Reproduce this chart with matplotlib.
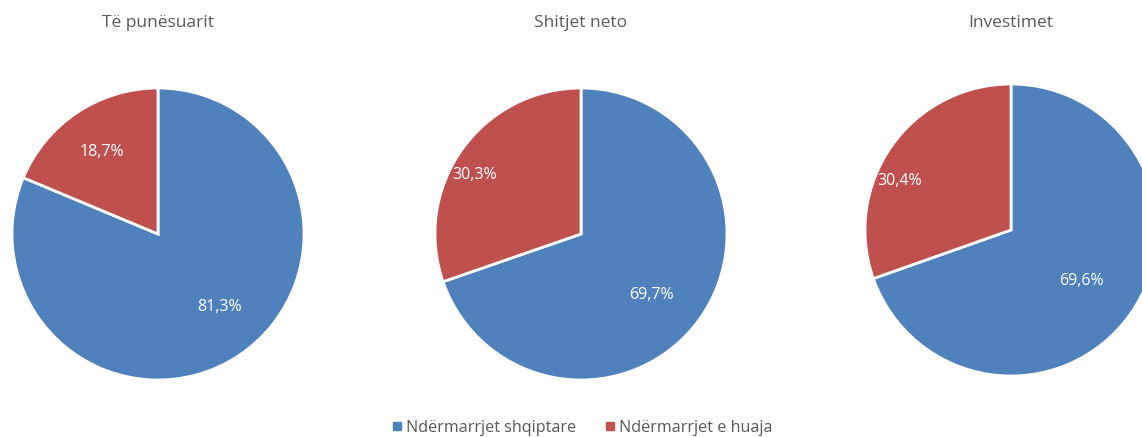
import matplotlib.pyplot as plt
import numpy as np

plt.rcParams['font.family'] = ['Open Sans', 'DejaVu Sans']

titles = ["Të punësuarit", "Shitjet neto", "Investimet"]
series = ["Ndërmarrjet shqiptare", "Ndërmarrjet e huaja"]
shqiptare = [81.3, 69.7, 69.6]
huaja = [18.7, 30.3, 30.4]

colors = ["#4F81BD", "#C0504D"]
W, H = 1142, 437
# pie centres / radius in pixel units
centres = [(158, 234), (581, 234), (1011, 230)]
radius = 146
# label placement: (distance as fraction of radius, angle offset from wedge middle)
label_pos = [[(0.645, 7.4), (0.69, 0)],
             [(0.63, -4.6), (0.84, 5.8)],
             [(0.59, 0), (0.84, 10.8)]]

fig = plt.figure(figsize=(W / 100, H / 100), dpi=100)
ax = fig.add_axes([0, 0, 1, 1])

for i in range(3):
    cx, cy = centres[i]
    vals = [shqiptare[i], huaja[i]]
    wedges, _ = ax.pie(vals, colors=colors, startangle=90, counterclock=False,
                       center=(cx, H - cy), radius=radius, frame=True,
                       wedgeprops=dict(edgecolor="white", linewidth=2))
    for w, v, (d, off) in zip(wedges, vals, label_pos[i]):
        ang = np.deg2rad((w.theta1 + w.theta2) / 2 + off)
        ax.text(cx + d * radius * np.cos(ang), H - cy + d * radius * np.sin(ang) - 1.5,
                f"{v:.1f}".replace(".", ",") + "%", color="white",
                ha="center", va="center", fontsize=11.5)
    ax.text(cx, H - 23, titles[i], ha="center", va="center",
            fontsize=12.5, color="#595959")

ax.set_xlim(0, W)
ax.set_ylim(0, H)
ax.set_aspect('equal')
ax.axis('off')

handles = [plt.Line2D([], [], marker='s', color=c, linestyle='', markersize=6)
           for c in colors]
fig.legend(handles, series, loc='center', bbox_to_anchor=(581 / W, 1 - 428 / H),
           ncol=2, frameon=False, fontsize=11.6, handletextpad=0.05,
           columnspacing=1.6, labelcolor="#595959", handlelength=1)

fig.savefig("out.png", dpi=100)
